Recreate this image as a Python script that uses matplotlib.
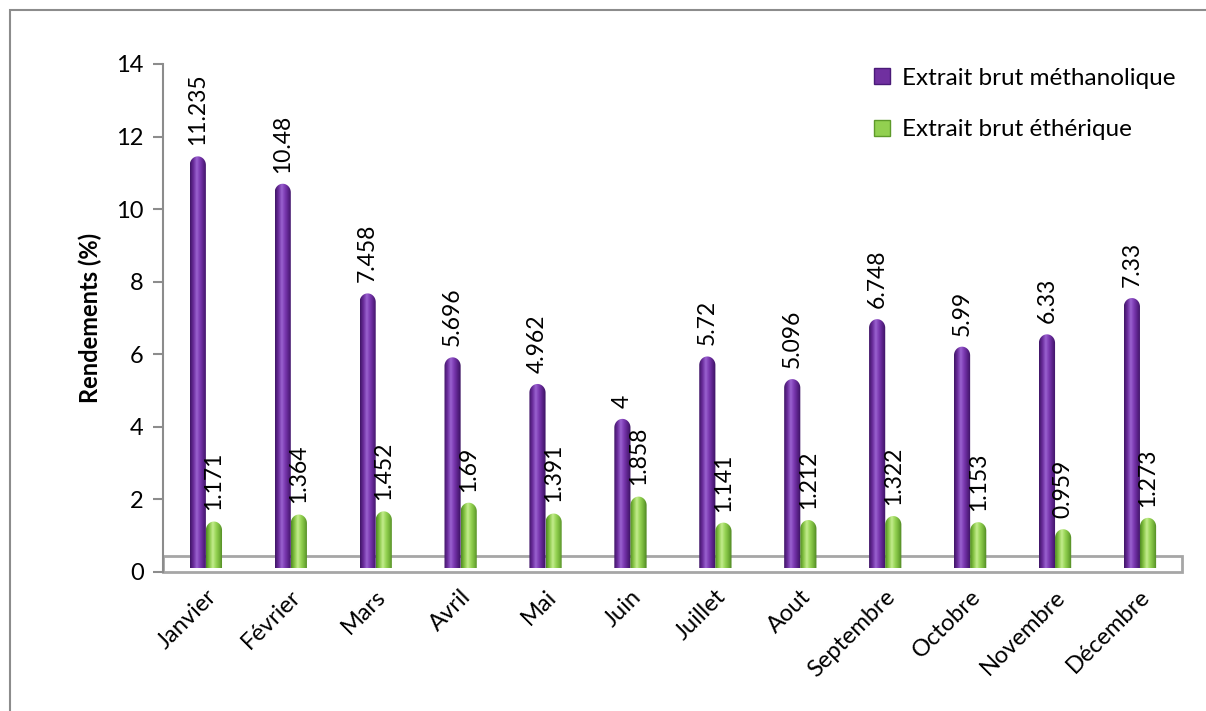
import numpy as np
import matplotlib
matplotlib.use('Agg')
import matplotlib.pyplot as plt
from matplotlib.path import Path
from matplotlib.patches import PathPatch, Rectangle, Patch
from matplotlib.colors import LinearSegmentedColormap

plt.rcParams['font.family'] = ['Lato', 'DejaVu Sans']

# données
mois = ['Janvier', 'Février', 'Mars', 'Avril', 'Mai', 'Juin', 'Juillet',
        'Aout', 'Septembre', 'Octobre', 'Novembre', 'Décembre']
methanolique = [11.235, 10.48, 7.458, 5.696, 4.962, 4, 5.72, 5.096,
                6.748, 5.99, 6.33, 7.33]
etherique = [1.171, 1.364, 1.452, 1.69, 1.391, 1.858, 1.141, 1.212,
             1.322, 1.153, 0.959, 1.273]
series = ['Extrait brut méthanolique', 'Extrait brut éthérique']

violet = '#7030A0'
vert = '#92D050'
cmap_violet = LinearSegmentedColormap.from_list(
    'v', ['#3F1566', '#6A2C9C', '#9A62D0', '#7A38B0', '#5A2288', '#3A1260'])
cmap_vert = LinearSegmentedColormap.from_list(
    'g', ['#4F8A22', '#86C444', '#C4EC8E', '#96D454', '#74B23A', '#4C8420'])

W, H = 1206, 711
fig = plt.figure(figsize=(W / 100, H / 100), dpi=100)
ax = fig.add_axes([163 / W, 1 - 572 / H, (1182 - 163) / W, (572 - 64) / H])

ax.set_xlim(-0.5, 11.5)
ax.set_ylim(0, 14)

# plancher 3D
ax.add_patch(Rectangle((-0.5, 0), 12, 0.44, facecolor='white',
                       edgecolor='#A6A6A6', lw=2, zorder=1, clip_on=False))

larg = 0.19
cap = 0.24
grad = np.linspace(0, 1, 64).reshape(1, -1)


def cylindre(xc, val, cmap):
    x0, x1 = xc - larg / 2, xc + larg / 2
    bas = 0.1
    haut = val + 0.22
    t = np.linspace(np.pi, 0, 40)
    arc = list(zip(xc + larg / 2 * np.cos(t), haut - cap + cap * np.sin(t)))
    verts = [(x0, bas)] + arc + [(x1, bas), (x0, bas)]
    patch = PathPatch(Path(verts), facecolor='none', edgecolor='none', zorder=2)
    ax.add_patch(patch)
    im = ax.imshow(grad, extent=(x0, x1, bas, haut), cmap=cmap,
                   aspect='auto', zorder=2, interpolation='bilinear')
    im.set_clip_path(patch)
    return haut


for i in range(len(mois)):
    h1 = cylindre(i - 0.09, methanolique[i], cmap_violet)
    ax.annotate(f'{methanolique[i]:g}', (i - 0.09, h1), xytext=(0, 8),
                textcoords='offset points', rotation=90, ha='center',
                va='bottom', fontsize=16.5)
    h2 = cylindre(i + 0.1, etherique[i], cmap_vert)
    ax.annotate(f'{etherique[i]:g}', (i + 0.1, h2), xytext=(0, 8),
                textcoords='offset points', rotation=90, ha='center',
                va='bottom', fontsize=16.5)

ax.set_xlim(-0.5, 11.5)
ax.set_ylim(0, 14)

for s in ['top', 'right', 'bottom']:
    ax.spines[s].set_visible(False)
ax.spines['left'].set_color('#8C8C8C')
ax.spines['left'].set_linewidth(1.5)

ax.set_yticks(range(0, 15, 2))
ax.tick_params(axis='y', colors='#8C8C8C', length=7, width=1.5,
               labelcolor='black', labelsize=17, pad=7)
ax.set_xticks(range(len(mois)))
ax.set_xticklabels(mois, rotation=45, ha='right', rotation_mode='anchor',
                   fontsize=17)
ax.tick_params(axis='x', length=0, pad=10)
ax.set_ylabel('Rendements (%)', fontsize=17, fontweight='bold', labelpad=10)

handles = [Patch(facecolor=violet, edgecolor='#4A1A78'),
           Patch(facecolor=vert, edgecolor='#5E9A2A')]
fig.legend(handles, series, loc='upper left',
           bbox_to_anchor=(852 / W, 1 - 46 / H), frameon=False,
           fontsize=17.5, labelspacing=1.25, handlelength=0.65,
           handleheight=0.65, handletextpad=0.5)

fig.patches.append(Rectangle((10 / W, -0.1), 1.2, 1 - 10 / H + 0.1,
                             transform=fig.transFigure, fill=False,
                             edgecolor='#8C8C8C', lw=1.5))

fig.savefig('out.png', dpi=100)
